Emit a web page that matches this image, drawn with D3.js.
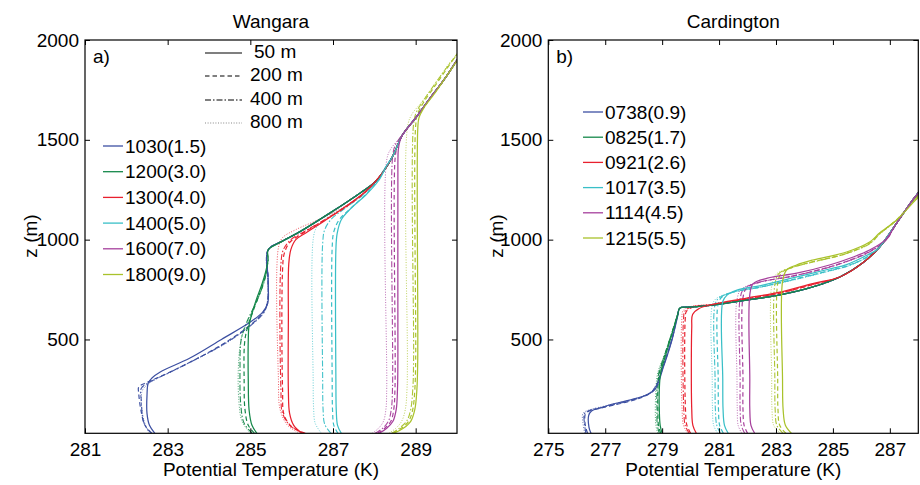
<!DOCTYPE html>
<html><head><meta charset="utf-8">
<script src="https://cdn.jsdelivr.net/npm/d3@7"></script>
<style>
body{margin:0;background:#fff;}
svg text{font-family:"Liberation Sans",Arial,Helvetica,sans-serif;fill:#000;}
</style></head>
<body><svg id="c" width="920" height="485"></svg>
<script>
// ---------------- DATA ----------------
const wangaraTimes = ["1030(1.5)","1200(3.0)","1300(4.0)","1400(5.0)","1600(7.0)","1800(9.0)"];
const cardingtonTimes = ["0738(0.9)","0825(1.7)","0921(2.6)","1017(3.5)","1114(4.5)","1215(5.5)"];
const resolutions = ["50 m","200 m","400 m","800 m"];
const seriesColors = ["#3d50a2","#15884a","#e8202e","#39bfc7","#a63f9c","#a9c22b"];
const wangaraXTicks = [281,283,285,287,289];
const cardingtonXTicks = [275,277,279,281,283,285,287];
const zTicks = [500,1000,1500,2000];

// shared capping inversion / free atmosphere (theta K, z m)
const wangaraUpper = [[285.43,948],[285.8,995],[286.2,1040],[286.93,1134],[287.66,1234],[288.02,1290],[288.25,1350],[288.45,1420],[288.68,1524],[289.0,1610],[289.35,1709],[289.7,1805],[290.0,1899],[290.2,1960]];
const cardingtonUpper = [[279.62,657],[280.0,662],[280.78,672],[281.97,697],[283.13,723],[284.29,763],[285.24,813],[286.04,883],[286.64,963],[287.24,1083],[287.8,1198],[288.2,1270]];

const wangara50 = [
 [[282.69,30],[282.56,70],[282.5,130],[282.5,220],[282.53,282],[282.62,307],[282.82,337],[283.54,407],[284.3,500],[285.0,587],[285.3,637],[285.42,680],[285.43,800]],
 [[285.16,30],[285.04,70],[284.97,147],[284.95,297],[284.95,497],[284.97,572],[285.04,630],[285.14,697],[285.27,770],[285.37,838],[285.43,900]],
 [[286.25,30],[286.05,70],[285.95,130],[285.92,250],[285.92,600],[285.93,880],[285.98,950],[286.1,1000],[286.35,1035],[286.8,1095],[287.3,1165],[287.75,1235]],
 [[287.2,30],[287.11,70],[287.08,140],[287.07,300],[287.07,950],[287.1,1030],[287.2,1100],[287.45,1160],[287.8,1225],[288.1,1295],[288.3,1370]],
 [[288.12,30],[288.3,55],[288.45,90],[288.53,150],[288.56,250],[288.57,400],[288.57,1380],[288.58,1450],[288.62,1495]],
 [[288.48,30],[288.7,55],[288.88,90],[288.98,150],[289.03,250],[289.05,400],[289.05,1550],[289.08,1610],[289.2,1660],[289.45,1730],[289.75,1820],[290.0,1895],[290.2,1955]]
];
const wangara200 = [
 [[282.62,30],[282.45,70],[282.35,150],[282.3,230],[282.3,262],[282.5,285],[282.9,322],[283.5,382],[284.3,472],[285.0,572],[285.3,632],[285.42,690],[285.43,800]],
 [[285.1,30],[284.95,70],[284.87,150],[284.85,300],[284.86,480],[284.93,560],[285.08,650],[285.28,760],[285.4,850]],
 [[286.33,30],[286.02,60],[285.82,120],[285.78,250],[285.78,850],[285.82,930],[285.95,985],[286.25,1030],[286.75,1092],[287.3,1162],[287.75,1232]],
 [[287.12,30],[287.02,70],[286.99,140],[286.98,300],[286.98,960],[287.02,1040],[287.15,1100],[287.42,1155],[287.75,1218],[288.05,1290],[288.28,1365]],
 [[288.08,30],[288.25,55],[288.4,90],[288.47,150],[288.5,260],[288.5,1400],[288.55,1465],[288.62,1505]],
 [[288.45,30],[288.65,55],[288.83,90],[288.93,150],[288.98,250],[289.0,400],[289.0,1570],[289.05,1630],[289.2,1690],[289.5,1780],[289.8,1870],[290.0,1930],[290.2,1985]]
];
const wangara400 = [
 [[282.6,30],[282.43,80],[282.36,200],[282.36,255],[282.58,288],[283.0,330],[283.6,392],[284.4,482],[285.05,577],[285.35,642],[285.43,720],[285.43,800]],
 [[285.05,30],[284.85,80],[284.77,170],[284.75,350],[284.78,500],[284.92,590],[285.15,690],[285.35,800],[285.43,900]],
 [[286.3,30],[285.98,65],[285.78,130],[285.74,250],[285.74,880],[285.8,950],[285.98,1000],[286.3,1040],[286.8,1100],[287.3,1165],[287.75,1232]],
 [[286.95,30],[286.8,75],[286.76,150],[286.75,300],[286.75,980],[286.8,1050],[286.97,1105],[287.3,1158],[287.7,1220],[288.05,1290],[288.28,1365]],
 [[288.02,30],[288.2,55],[288.34,90],[288.41,150],[288.44,260],[288.44,1410],[288.5,1470],[288.62,1510]],
 [[288.42,30],[288.6,55],[288.78,90],[288.88,150],[288.93,250],[288.95,400],[288.95,1580],[289.02,1640],[289.2,1700],[289.5,1790],[289.8,1875],[290.0,1925],[290.2,1975]]
];
const wangara800 = [
 [[282.55,30],[282.42,100],[282.38,240],[282.55,280],[283.0,330],[283.7,402],[284.5,492],[285.05,582],[285.38,660],[285.43,760]],
 [[285.0,30],[284.8,90],[284.72,200],[284.72,400],[284.8,520],[285.0,620],[285.25,740],[285.4,860]],
 [[286.2,30],[285.9,70],[285.72,150],[285.68,300],[285.68,960],[285.78,1010],[286.1,1050],[286.7,1105],[287.3,1168],[287.75,1235]],
 [[286.72,30],[286.57,80],[286.53,160],[286.52,300],[286.52,1000],[286.6,1060],[286.85,1110],[287.25,1160],[287.7,1222],[288.05,1292],[288.28,1365]],
 [[287.95,30],[288.1,55],[288.22,90],[288.28,150],[288.3,260],[288.3,1400],[288.4,1455],[288.6,1505]],
 [[288.35,30],[288.52,55],[288.66,90],[288.75,150],[288.79,250],[288.8,400],[288.8,1560],[288.9,1625],[289.15,1690],[289.5,1790],[289.8,1880],[290.0,1930],[290.2,1980]]
];

const cardington50 = [
 [[276.5,30],[276.43,60],[276.42,120],[276.52,142],[276.85,158],[277.3,178],[277.9,198],[278.45,222],[278.75,250],[279.05,365],[279.35,500],[279.55,620]],
 [[279.0,30],[278.93,70],[278.9,150],[278.9,250],[278.95,335],[279.12,420],[279.35,530],[279.55,625]],
 [[280.2,30],[280.08,70],[280.04,150],[280.04,560],[280.07,625],[280.3,655],[280.78,676],[281.97,707],[283.13,737],[284.29,780]],
 [[281.32,30],[281.19,70],[281.14,150],[281.13,300],[281.13,690],[281.28,722],[281.63,747],[282.54,772],[283.73,813],[284.88,853],[285.48,875],[286.1,915],[286.5,945]],
 [[282.25,30],[282.12,70],[282.08,150],[282.08,300],[282.08,725],[282.2,780],[282.7,807],[283.73,832],[284.88,873],[285.69,912],[286.29,948],[286.85,1000]],
 [[283.54,30],[283.33,70],[283.25,150],[283.23,300],[283.23,790],[283.37,848],[283.72,873],[284.29,898],[285.48,938],[286.29,988],[286.64,1033],[287.24,1098],[287.8,1183],[288.2,1250]]
];
const cardington200 = [
 [[276.38,30],[276.3,70],[276.3,125],[276.42,140],[276.9,158],[277.5,178],[278.1,200],[278.55,228],[278.75,255],[279.05,370],[279.35,505],[279.55,625]],
 [[278.95,30],[278.87,70],[278.85,150],[278.85,250],[278.9,330],[279.1,425],[279.35,535],[279.55,628]],
 [[280.0,30],[279.87,70],[279.82,150],[279.81,600],[279.85,640],[280.1,663],[280.78,675],[281.97,703],[283.13,732],[284.29,775]],
 [[281.15,30],[281.02,70],[280.98,150],[280.97,300],[280.97,680],[281.1,712],[281.5,738],[282.5,764],[283.73,805],[284.88,845],[285.48,868],[286.1,905],[286.5,945]],
 [[282.0,30],[281.88,70],[281.84,150],[281.84,300],[281.84,710],[281.98,760],[282.5,790],[283.6,818],[284.8,860],[285.65,900],[286.25,938],[286.85,995]],
 [[283.35,30],[283.13,70],[283.07,150],[283.06,300],[283.06,780],[283.2,835],[283.6,862],[284.25,888],[285.45,930],[286.29,982],[286.64,1030],[287.24,1100],[287.8,1190],[288.2,1260]]
];
const cardington400 = [
 [[276.32,30],[276.27,80],[276.27,128],[276.45,145],[276.95,162],[277.55,182],[278.15,205],[278.58,232],[278.75,260],[279.05,372],[279.35,505],[279.55,625]],
 [[278.9,30],[278.83,70],[278.82,150],[278.82,250],[278.88,330],[279.1,428],[279.35,537],[279.55,628]],
 [[279.95,30],[279.81,70],[279.76,150],[279.75,600],[279.8,642],[280.05,664],[280.78,675],[281.97,703],[283.13,732],[284.29,775]],
 [[281.05,30],[280.92,70],[280.87,150],[280.86,300],[280.86,675],[281.0,708],[281.45,735],[282.45,762],[283.7,802],[284.85,843],[285.48,866],[286.1,905],[286.5,945]],
 [[281.9,30],[281.78,70],[281.74,150],[281.74,300],[281.74,705],[281.88,755],[282.4,786],[283.5,815],[284.75,857],[285.6,897],[286.25,936],[286.85,995]],
 [[283.25,30],[283.03,70],[282.97,150],[282.96,300],[282.96,775],[283.1,830],[283.5,858],[284.2,885],[285.4,927],[286.29,980],[286.64,1028],[287.24,1098],[287.8,1188],[288.2,1258]]
];
const cardington800 = [
 [[276.28,30],[276.22,80],[276.22,130],[276.5,150],[277.0,167],[277.6,187],[278.2,210],[278.6,237],[278.75,262],[279.05,374],[279.35,507],[279.55,625]],
 [[278.85,30],[278.78,70],[278.78,250],[278.85,335],[279.1,430],[279.35,538],[279.55,628]],
 [[279.9,30],[279.75,70],[279.7,150],[279.69,600],[279.74,645],[280.0,665],[280.78,676],[281.97,704],[283.13,733],[284.29,776]],
 [[280.95,30],[280.81,70],[280.77,150],[280.76,300],[280.76,670],[280.9,705],[281.4,733],[282.4,760],[283.7,800],[284.85,841],[285.48,865],[286.1,904],[286.5,945]],
 [[281.8,30],[281.67,70],[281.64,150],[281.63,300],[281.63,700],[281.78,752],[282.35,784],[283.45,813],[284.7,855],[285.6,895],[286.25,935],[286.85,995]],
 [[283.15,30],[282.92,70],[282.86,150],[282.85,300],[282.85,770],[283.0,826],[283.45,855],[284.15,882],[285.35,925],[286.29,978],[286.64,1026],[287.24,1097],[287.8,1187],[288.2,1257]]
];

// ---------------- DRAW ----------------
const svg = d3.select("#c");
const dashes = [null, "4.5,3", "6,2,1.5,2", "1,1.6"];
const widths = [1.25, 1.2, 1.1, 1.0];
const opac = [1, 1, 0.95, 0.75];
const FS = 19;

function panel(o){
  const x = d3.scaleLinear().domain(o.xDomain).range(o.xRange);
  const y = d3.scaleLinear().domain([30,2000]).range([433.3,40]);
  const [x0,x1] = o.xRange, y0 = 40, y1 = 433.3;
  const g = svg.append("g");
  const clipId = "clip"+o.id;
  svg.append("clipPath").attr("id",clipId).append("rect")
     .attr("x",x0).attr("y",y0).attr("width",x1-x0).attr("height",y1-y0);
  const line = d3.line().x(d=>x(d[0])).y(d=>y(d[1])).curve(d3.curveCatmullRom.alpha(0.5));
  const plot = g.append("g").attr("clip-path","url(#"+clipId+")");
  const sets = [o.r50,o.r200,o.r400,o.r800];
  for (let r=3;r>=0;r--){
    sets[r].forEach((prof,i)=>{
      const last = prof[prof.length-1][1];
      const pts = prof.concat(o.upper.filter(p=>p[1]>last+15));
      plot.append("path").attr("d",line(pts)).attr("fill","none")
        .attr("stroke",seriesColors[i]).attr("stroke-width",widths[r])
        .attr("stroke-opacity",opac[r])
        .attr("stroke-dasharray",dashes[r]);
    });
  }
  // axes
  const fmt = d3.format("d");
  g.append("g").attr("transform",`translate(0,${y1})`)
    .call(d3.axisBottom(x).tickValues(o.xTicks).tickSizeInner(-5).tickSizeOuter(0).tickPadding(9).tickFormat(fmt));
  g.append("g").attr("transform",`translate(0,${y0})`)
    .call(d3.axisTop(x).tickValues(o.xTicks).tickSizeInner(-5).tickSizeOuter(0).tickFormat(""));
  g.append("g").attr("transform",`translate(${x0},0)`)
    .call(d3.axisLeft(y).tickValues(zTicks).tickSizeInner(-5).tickSizeOuter(0).tickPadding(6).tickFormat(fmt));
  g.append("g").attr("transform",`translate(${x1},0)`)
    .call(d3.axisRight(y).tickValues(zTicks).tickSizeInner(-5).tickSizeOuter(0).tickFormat(""));
  g.selectAll(".domain").remove();
  g.selectAll(".tick line").attr("stroke","#000").attr("stroke-width",1);
  g.selectAll(".tick text").attr("font-size",FS).attr("fill","#000")
    .attr("font-family","'Liberation Sans',Arial,Helvetica,sans-serif");
  g.append("rect").attr("x",x0).attr("y",y0).attr("width",x1-x0).attr("height",y1-y0)
    .attr("fill","none").attr("stroke","#000").attr("stroke-width",1.2);
  const cx = (x0+x1)/2;
  g.append("text").attr("x",cx).attr("y",28).attr("text-anchor","middle").attr("font-size",FS).text(o.title);
  g.append("text").attr("x",cx).attr("y",476).attr("text-anchor","middle").attr("font-size",FS).text("Potential Temperature (K)");
  g.append("text").attr("transform",`translate(${o.zLabelX},236) rotate(-90)`).attr("text-anchor","middle")
    .attr("font-size",FS).text("z (m)");
  g.append("text").attr("x",x0+8).attr("y",63).attr("font-size",FS).text(o.tag);
  // colour legend
  o.times.forEach((t,i)=>{
    const yy = o.legY + i*o.legDy;
    g.append("line").attr("x1",o.legX).attr("x2",o.legX+20).attr("y1",yy).attr("y2",yy)
      .attr("stroke",seriesColors[i]).attr("stroke-width",1.3);
    g.append("text").attr("x",o.legX+22).attr("y",yy).attr("dy","0.35em").attr("font-size",FS).text(t);
  });
}

panel({id:"a",xDomain:[281,290],xRange:[85,457],xTicks:wangaraXTicks,upper:wangaraUpper,
  r50:wangara50,r200:wangara200,r400:wangara400,r800:wangara800,title:"Wangara",tag:"a)",
  times:wangaraTimes,legX:103,legY:146,legDy:25.7,zLabelX:37});
panel({id:"b",xDomain:[275,288],xRange:[548.3,918.3],xTicks:cardingtonXTicks,upper:cardingtonUpper,
  r50:cardington50,r200:cardington200,r400:cardington400,r800:cardington800,title:"Cardington",tag:"b)",
  times:cardingtonTimes,legX:583,legY:112,legDy:25.2,zLabelX:503});

// line-style legend (panel a)
const ls = svg.append("g");
resolutions.forEach((r,i)=>{
  const yy = [51,74,98,121][i];
  ls.append("line").attr("x1",205).attr("x2",242).attr("y1",yy+2).attr("y2",yy+2)
    .attr("stroke",i===3?"#888":"#000").attr("stroke-width",1.1).attr("stroke-dasharray",dashes[i]);
  ls.append("text").attr("x",i===0?254:250).attr("y",yy).attr("dy","0.35em").attr("font-size",FS).text(r);
});
</script></body></html>
